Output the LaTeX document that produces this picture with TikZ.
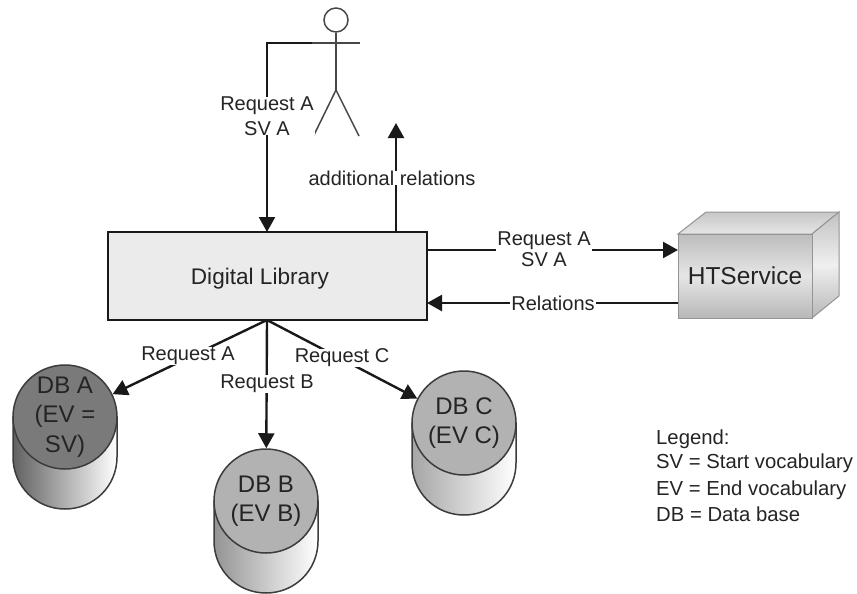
\documentclass[tikz,border=0pt]{standalone}
\usepackage{fontspec}
\setmainfont{Liberation Sans}
\usetikzlibrary{arrows.meta,shapes.geometric,calc}
\definecolor{txt}{gray}{0.14}
\definecolor{ln}{gray}{0.1}
\tikzset{
  lbl/.style={fill=white,inner xsep=1pt,inner ysep=0pt,align=center,text=txt,font=\fontsize{20}{21.5}\selectfont},
  conn/.style={draw=ln,line width=2.4pt,-{Triangle[length=15pt,width=16pt]}},
  thin stick/.style={draw=ln!80,line width=1.5pt},
  dbtop/.style={circle,draw=ln!85,line width=1.5pt,minimum size=104pt,inner sep=0pt,align=center,text=txt,font=\fontsize{24}{29.5}\selectfont},
  dbside/.style={draw=ln!85,line width=1.5pt},
  legendtxt/.style={anchor=west,inner sep=0pt,text=txt,font=\fontsize{20.3}{24}\selectfont}
}
\newcommand{\dbbody}[3]{%
  \path[dbside,left color=#3,right color=white]
    (#1-52,#2) -- (#1-52,#2+40)
    .. controls (#1-52,#2+69) and (#1-29,#2+92) .. (#1,#2+92)
    .. controls (#1+29,#2+92) and (#1+52,#2+69) .. (#1+52,#2+40)
    -- (#1+52,#2) -- cycle;}
\begin{document}
\begin{tikzpicture}[x=1pt,y=-1pt]
\useasboundingbox (0,0) rectangle (857,594);
% main box
\node[draw=ln,line width=2.4pt,fill=black!8,minimum width=319pt,minimum height=88pt,inner sep=0pt] (lib) at (267.5,276) {};
\node[inner sep=0pt,text=txt,font=\fontsize{22.6}{26}\selectfont] (libtext) at (260,279) {Digital Library};
% HTService
\path[draw=black!42,line width=1pt,top color=black!22,bottom color=black!10] (678,234) -- (706,212) -- (839,212) -- (812,234) -- cycle;
\path[draw=black!42,line width=1pt,top color=black!24,bottom color=black!28,middle color=black!6] (812,234) -- (839,212) -- (839,296) -- (812,318) -- cycle;
\node[draw=black!42,line width=1pt,top color=black!26,bottom color=black!28,middle color=black!10,minimum width=134pt,minimum height=84pt,inner sep=0pt,text=txt,font=\fontsize{24.5}{26}\selectfont] (ht) at (745,276) {HTService};
% databases
\dbbody{65}{417}{black!62}
\dbbody{266}{501}{black!42}
\dbbody{464}{423}{black!35}
\node[dbtop,fill=black!52] (dba) at (65,417) {DB A\\(EV =\\SV)};
\node[dbtop,fill=black!30] (dbb) at (266,501) {DB B\\(EV B)};
\node[dbtop,fill=black!30] (dbc) at (464,423) {DB C\\(EV C)};
% stick figure
\node[circle,draw=ln!80,line width=1.5pt,minimum size=24pt,inner sep=0pt] (head) at (336,20) {};
\coordinate (hip) at (336,90);
\coordinate (armL) at (267,43);
\coordinate (armR) at (360,43);
\coordinate (armM) at (312,43);
\coordinate (legL) at (314,135);
\coordinate (legR) at (359,136);
\draw[thin stick] (head.south) -- (hip);
\draw[thin stick] (armL) -- (armR);
\draw[thin stick] (legL) -- (hip) -- (legR);
% connectors
\coordinate (hub) at (267,320);
\coordinate (libIn) at (267,232);
\coordinate (libOut) at (396,232);
\coordinate (upTip) at (396,123);
\coordinate (libR1) at (427,250);
\coordinate (libR2) at (427,303);
\coordinate (htL1) at (678,250);
\coordinate (htL2) at (678,303);
\draw[conn] (armM) -- (armL) -- (libIn);
\draw[conn] (libOut) -- (upTip);
\draw[conn] (libR1) -- (htL1);
\draw[conn] (htL2) -- (libR2);
\draw[conn] (hub) -- (dba);
\draw[conn] (hub) -- (dbb);
\draw[conn] (hub) -- (dbc);
% labels
\node[lbl,font=\fontsize{20}{24.5}\selectfont] (l1) at (267,116) {Request A\\SV A};
\node[lbl] (l2) at (392,178) {additional relations};
\node[lbl] (l3) at (544,249) {Request A\\SV A};
\node[lbl] (l4) at (553,303) {Relations};
\node[lbl] (l5) at (188,356) {Request A};
\node[lbl] (l6) at (267,384) {Request B};
\node[lbl] (l7) at (342,358) {Request C};
% legend
\node[legendtxt] (lg1) at (656,439) {Legend:};
\node[legendtxt] (lg2) at (656,463) {SV = Start vocabulary};
\node[legendtxt] (lg3) at (656,490) {EV = End vocabulary};
\node[legendtxt] (lg4) at (656,514) {DB = Data base};
\end{tikzpicture}
\end{document}
